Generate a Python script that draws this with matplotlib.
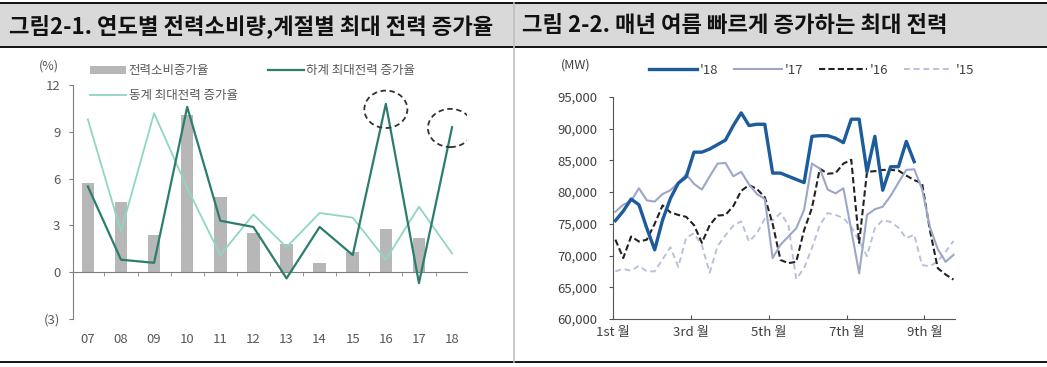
# -*- coding: utf-8 -*-
import numpy as np
import matplotlib
matplotlib.use("Agg")
from matplotlib import pyplot as plt
from matplotlib.patches import Rectangle, Ellipse
from matplotlib.lines import Line2D

plt.rcParams['font.family'] = ['Noto Sans CJK KR', 'DejaVu Sans']

# Datos grafico 2-1 (%)
anios = ['07', '08', '09', '10', '11', '12', '13', '14', '15', '16', '17', '18']
consumo = [5.7, 4.5, 2.4, 10.1, 4.8, 2.5, 1.8, 0.6, 1.3, 2.8, 2.2, np.nan]
verano = [5.5, 0.8, 0.6, 10.6, 3.3, 2.9, -0.4, 2.9, 1.1, 10.8, -0.7, 9.3]
invierno = [9.8, 2.6, 10.2, 5.4, 1.1, 3.7, 1.6, 3.8, 3.5, 0.8, 4.2, 1.2]
ytick_izq = [-3, 0, 3, 6, 9, 12]
ytick_izq_txt = ['(3)', '0', '3', '6', '9', '12']

# Datos grafico 2-2 (MW)
s18 = [75500, 77000, 78900, 78000, 74300, 70900, 75600, 79000, 81400, 82400,
       86300, 86300, 86800, 87500, 88200, 90500, 92500, 90500, 90700, 90700,
       83000, 83000, 82500, 82000, 81500, 88800, 88900, 88900, 88500, 87800,
       91500, 91500, 83200, 88800, 80300, 84000, 84000, 88000, 84800]
s17 = [76900, 78000, 78600, 80600, 78700, 78500, 79700, 80300, 81500, 82800,
       81300, 80400, 82500, 84500, 84600, 82500, 83200, 81200, 79700, 78900,
       69600, 71700, 73000, 74300, 77200, 84500, 83700, 80400, 79800, 80600,
       74000, 67200, 76400, 77300, 77700, 79400, 81500, 83500, 83600, 80500,
       74500, 71000, 69000, 70100]
s16 = [72500, 69600, 73000, 72200, 72500, 75000, 77900, 76800, 76400, 76100,
       74800, 72000, 74800, 76300, 76400, 77800, 80200, 81100, 80500, 79200,
       75000, 69300, 68800, 69000, 74000, 77500, 83700, 82900, 83000, 84500,
       85100, 72000, 83200, 83300, 83500, 83500, 83400, 82600, 81900, 81400,
       74000, 68000, 67000, 66200]
s15 = [67500, 67900, 67600, 68400, 67500, 67500, 69400, 71300, 68200, 72800,
       73500, 71600, 67300, 71500, 73200, 74700, 75400, 72200, 73500, 75800,
       75500, 76700, 74800, 66300, 68000, 71200, 74800, 76700, 76400, 75900,
       74500, 72300, 69900, 74300, 75600, 75300, 74400, 72700, 73300, 68500,
       68300, 69100, 70600, 72300]
meses = ['1st 월', '3rd 월', '5th 월', '7th 월', '9th 월']
ytick_der = [60000, 65000, 70000, 75000, 80000, 85000, 90000, 95000]

gris_txt = '#595959'

fig = plt.figure(figsize=(10.47, 3.67), dpi=100)

# Cabecera
fig.patches.append(Rectangle((0, 0.872), 1, 0.12, transform=fig.transFigure,
                             facecolor='#d9d9d9', edgecolor='none', zorder=0))
for yy in (0.992, 0.872, 0.0136):
    fig.add_artist(Line2D([0, 1], [yy, yy], transform=fig.transFigure,
                          color='black', lw=1.3))
fig.add_artist(Line2D([0.491, 0.491], [0.0136, 0.992], transform=fig.transFigure,
                      color='#bfbfbf', lw=1.2))
fig.text(0.009, 0.93, '그림2-1. 연도별 전력소비량,계절별 최대 전력 증가율',
         fontsize=16, fontweight='bold', va='center', ha='left', color='#111111')
fig.text(0.4986, 0.93, '그림 2-2. 매년 여름 빠르게 증가하는 최대 전력',
         fontsize=16, fontweight='bold', va='center', ha='left', color='#111111')

# ---------------- Grafico izquierdo ----------------
ax1 = fig.add_axes([0.0697, 0.131, 0.3763, 0.637])
x = np.arange(len(anios))
b = ax1.bar(x, consumo, width=0.38, color='#b7b7b7', label='전력소비증가율', zorder=1)
l2, = ax1.plot(x, invierno, color='#8ed6c6', lw=1.3, label='동계 최대전력 증가율', zorder=2)
l1, = ax1.plot(x, verano, color='#2d7d6d', lw=1.6, label='하계 최대전력 증가율', zorder=3)

ax1.add_patch(Ellipse((9, 10.45), 1.3, 2.4, fill=False, ls=(0, (3, 2)),
                      lw=1.3, edgecolor='#333333', zorder=4))
ax1.add_patch(Ellipse((10.95, 9.25), 1.36, 2.45, fill=False, ls=(0, (3, 2)),
                      lw=1.3, edgecolor='#333333', zorder=4))

ax1.set_xlim(-0.45, 11.45)
ax1.set_ylim(-3, 12)
for s in ('top', 'right'):
    ax1.spines[s].set_visible(False)
ax1.spines['left'].set_color('#7f7f7f')
ax1.spines['bottom'].set_position(('data', 0))
ax1.spines['bottom'].set_color('#7f7f7f')
ax1.set_yticks(ytick_izq)
ax1.set_yticklabels(ytick_izq_txt)
ax1.tick_params(axis='y', colors='#7f7f7f', labelcolor=gris_txt, labelsize=9.5,
                length=3, pad=6)
ax1.set_xticks(x)
ax1.set_xticklabels(anios)
ax1.set_xticks(x[:-1] + 0.5, minor=True)
ax1.tick_params(axis='x', which='major', length=0, pad=44, labelsize=9.5,
                labelcolor=gris_txt)
ax1.tick_params(axis='x', which='minor', length=3, colors='#7f7f7f')
ax1.text(-0.06, 1.08, '(%)', transform=ax1.transAxes, fontsize=9,
         color=gris_txt, ha='center', va='center')
ax1.legend([b, l2, l1], ['전력소비증가율', '동계 최대전력 증가율', '하계 최대전력 증가율'],
           ncol=2, loc='upper left', bbox_to_anchor=(0.03, 1.11), frameon=False,
           fontsize=9, labelcolor=gris_txt, handlelength=2.9, handletextpad=0.2,
           columnspacing=2.4, labelspacing=0.95, borderaxespad=0)

# ---------------- Grafico derecho ----------------
ax2 = fig.add_axes([0.5855, 0.131, 0.3267, 0.6047])
ax2.plot(np.arange(len(s15)), s15, color='#b9c0dd', lw=1.4, ls=(0, (3, 2)), label="'15")
ax2.plot(np.arange(len(s16)), s16, color='#222222', lw=1.5, ls=(0, (3, 1.5)), label="'16")
ax2.plot(np.arange(len(s17)), s17, color='#9ea6c8', lw=1.5, label="'17")
ax2.plot(np.arange(len(s18)), s18, color='#1c5b9c', lw=2.4, label="'18")

ax2.set_xlim(-0.3, 43.2)
ax2.set_ylim(60000, 95000)
for s in ('top', 'right'):
    ax2.spines[s].set_visible(False)
ax2.spines['left'].set_color('#555555')
ax2.spines['bottom'].set_color('#555555')
ax2.set_yticks(ytick_der)
ax2.set_yticklabels(['{:,}'.format(v) for v in ytick_der])
ax2.tick_params(axis='y', colors='#555555', labelcolor='#404040', labelsize=9.5,
                length=3, pad=8)
ax2.set_xticks(np.arange(len(meses)) * 9.9 - 0.3)
ax2.set_xticklabels(meses)
ax2.tick_params(axis='x', direction='in', length=3, colors='#555555',
                labelcolor='#404040', labelsize=9.5, pad=5)
ax2.text(-0.11, 1.145, '(MW)', transform=ax2.transAxes, fontsize=9,
         color='#404040', ha='center', va='center')
h, lab = ax2.get_legend_handles_labels()
ax2.legend(h[::-1], lab[::-1], ncol=4, loc='center left', bbox_to_anchor=(0.09, 1.12),
           frameon=False, fontsize=9.5, labelcolor='#404040', handlelength=3.6,
           handletextpad=0.25, columnspacing=1.2, borderaxespad=0)

plt.savefig('out.png', dpi=100)
